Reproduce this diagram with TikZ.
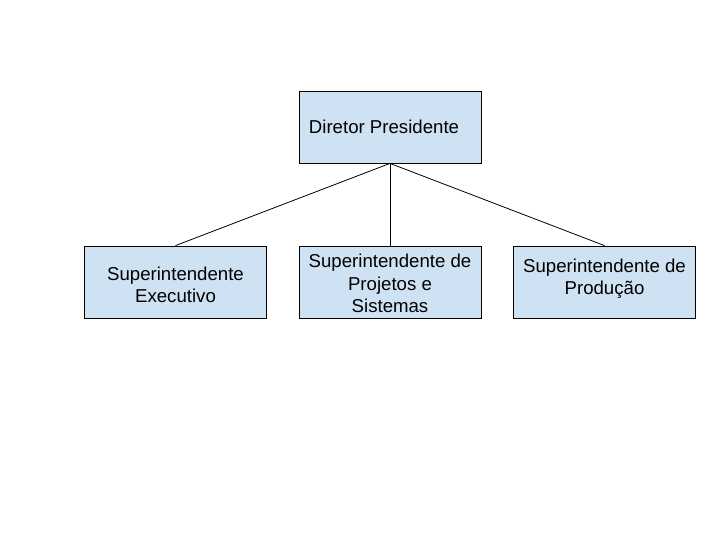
\documentclass[tikz,border=0pt]{standalone}
\usepackage{fontspec}
\setmainfont{Liberation Sans}
\definecolor{boxfill}{HTML}{CFE2F3}
\begin{document}
\begin{tikzpicture}[x=1bp,y=-1bp,
  orgbox/.style={draw=black,line width=0.8bp,fill=boxfill,minimum width=182bp,minimum height=72bp,inner sep=0pt},
  lbl/.style={align=center,font=\fontsize{18.7}{22.5}\selectfont,inner sep=0pt},
  conn/.style={draw=black,line width=0.8bp}]
\useasboundingbox[fill=white] (0,0) rectangle (720,540);
\node[orgbox] (top) at (390,127) {};
\node[lbl,anchor=center] (toplbl) at (384,126.5) {Diretor Presidente};
\node[orgbox] (left) at (175.5,282) {};
\node[lbl] (leftlbl) at (175.5,285) {Superintendente\\Executivo};
\node[orgbox] (mid) at (390,282) {};
\node[lbl] (midlbl) at (390,283.5) {Superintendente de\\Projetos e\\Sistemas};
\node[orgbox] (right) at (604.5,282) {};
\node[lbl] (rightlbl) at (604.5,278.5) {Superintendente de\\Produção};
\draw[conn] (top.south) -- (left.north);
\draw[conn] (top.south) -- (mid.north);
\draw[conn] (top.south) -- (right.north);
\end{tikzpicture}
\end{document}
